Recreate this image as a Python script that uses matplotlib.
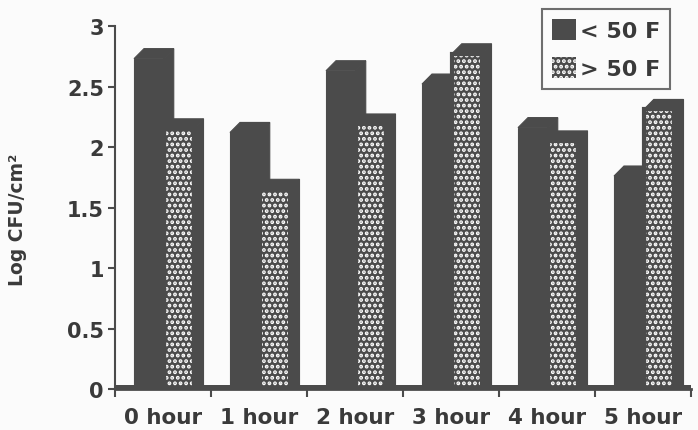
import matplotlib
matplotlib.use("Agg")
import matplotlib.pyplot as plt
from matplotlib.patches import Patch, Polygon

# ---- data ----
categories = ["0 hour", "1 hour", "2 hour", "3 hour", "4 hour", "5 hour"]
below_50F = [2.73, 2.12, 2.63, 2.52, 2.16, 1.76]
above_50F = [2.15, 1.65, 2.19, 2.77, 2.05, 2.31]
series_labels = ["< 50 F", "> 50 F"]
yticks = [0, 0.5, 1, 1.5, 2, 2.5, 3]
ytick_labels = ["0", "0.5", "1", "1.5", "2", "2.5", "3"]

# ---- style ----
DARK = "#4b4b4b"
TEXT = "#3a3a3a"
BG = "#fbfbfb"
plt.rcParams["font.family"] = ["DejaVu Sans"]
plt.rcParams["font.weight"] = "bold"
plt.rcParams["hatch.linewidth"] = 1.9

fig = plt.figure(figsize=(6.98, 4.31), dpi=100, facecolor=BG)
ax = fig.add_axes([115 / 698, 1 - 390 / 431, (691 - 115) / 698, (390 - 27) / 431])
ax.set_facecolor(BG)

W = 0.31      # bar width (data units)
DX = 0.104    # depth offset x
DY = 0.083    # depth offset y
HATCH = "..."


def bar3d(xleft, v, hatch, z):
    xr = xleft + W
    top = Polygon([(xleft, v), (xleft + DX, v + DY), (xr + DX, v + DY), (xr, v)],
                  closed=True, facecolor=DARK, edgecolor=DARK, linewidth=0.8, zorder=z)
    side = Polygon([(xr, 0), (xr, v), (xr + DX, v + DY), (xr + DX, 0)],
                   closed=True, facecolor=DARK, edgecolor=DARK, linewidth=0.8, zorder=z)
    ax.add_patch(top)
    ax.add_patch(side)
    if hatch:
        ax.bar(xleft, v, width=W, align="edge", color=DARK, edgecolor="white",
               hatch=hatch, linewidth=0, zorder=z + 0.1)
        ax.bar(xleft, v, width=W, align="edge", facecolor="none", edgecolor=DARK,
               linewidth=3, zorder=z + 0.2)
    else:
        ax.bar(xleft, v, width=W, align="edge", color=DARK, edgecolor=DARK,
               linewidth=0.8, zorder=z + 0.1)


for i, (a, b) in enumerate(zip(below_50F, above_50F)):
    bar3d(i - 0.302, a, None, 2)
    bar3d(i - 0.302 + W, b, HATCH, 3)

# floor strip
ax.axhspan(0, 0.035, color=DARK, zorder=1, linewidth=0)

ax.set_xlim(-0.5, 5.5)
ax.set_ylim(0, 3)

for s in ["top", "right"]:
    ax.spines[s].set_visible(False)
ax.spines["left"].set_color(DARK)
ax.spines["left"].set_linewidth(1.5)
ax.spines["bottom"].set_color(DARK)
ax.spines["bottom"].set_linewidth(2)

ax.set_yticks(yticks)
ax.set_yticklabels(ytick_labels)
ax.tick_params(axis="y", length=5, width=1.5, color=DARK, pad=3,
               labelsize=15, labelcolor=TEXT)

ax.set_xticks([i - 0.5 for i in range(len(categories) + 1)])
ax.set_xticklabels([])
ax.set_xticks(range(len(categories)), minor=True)
ax.set_xticklabels(categories, minor=True)
ax.tick_params(axis="x", which="major", length=6, width=1.5, color=DARK)
ax.tick_params(axis="x", which="minor", length=0, pad=13, labelsize=15.5,
               labelcolor=TEXT)

fig.text(18 / 698, 1 - 220 / 431, "Log CFU/cm²", rotation=90, ha="center",
         va="center", fontsize=13.5, color=TEXT, fontweight="bold")

handles = [Patch(facecolor=DARK, edgecolor=DARK, linewidth=0),
           Patch(facecolor=DARK, edgecolor="white", hatch=HATCH, linewidth=0)]
leg = ax.legend(handles, series_labels, loc="upper right",
                bbox_to_anchor=(670 / 698, 1 - 10 / 431),
                bbox_transform=fig.transFigure, borderaxespad=0,
                fancybox=False, frameon=True, fontsize=16,
                handlelength=1.1, handleheight=1.1, handletextpad=0.15,
                labelspacing=0.7, borderpad=0.45, labelcolor=TEXT)
leg.get_frame().set_edgecolor(DARK)
leg.get_frame().set_linewidth(1.5)
leg.get_frame().set_facecolor(BG)
leg.set_zorder(10)

fig.savefig("out.png", dpi=100, facecolor=BG)
